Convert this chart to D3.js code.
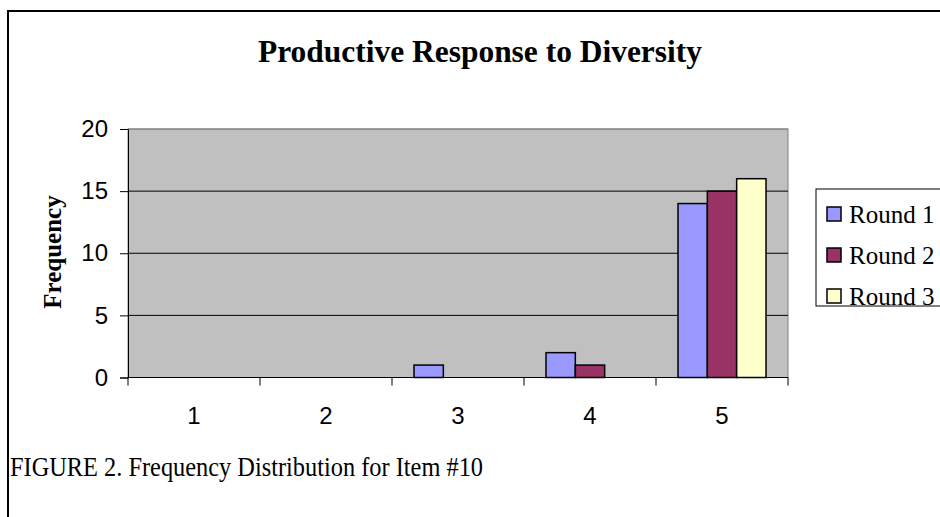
<!DOCTYPE html>
<html>
<head>
<meta charset="utf-8">
<script src="https://cdn.jsdelivr.net/npm/d3@7/dist/d3.min.js"></script>
<style>
  html, body { margin: 0; padding: 0; background: #fff; }
  svg { display: block; }
</style>
</head>
<body>
<script>
// Response categories (Likert scale 1–5) and frequency per round
const categories = ["1", "2", "3", "4", "5"];
const seriesNames = ["Round 1", "Round 2", "Round 3"];
const round1 = [0, 0, 1, 2, 14];
const round2 = [0, 0, 0, 1, 15];
const round3 = [0, 0, 0, 0, 16];
const yTicks = [0, 5, 10, 15, 20];
const seriesColors = ["#9999FF", "#993366", "#FFFFCC"];

const W = 940, H = 517;
const plot = { left: 128, right: 788, top: 129, bottom: 377.5 };

const svg = d3.select("body").append("svg")
  .attr("width", W).attr("height", H);

// Outer chart frame (runs past the right and bottom edges)
svg.append("rect")
  .attr("x", 8).attr("y", 11)
  .attr("width", 960).attr("height", 540)
  .attr("fill", "#fff").attr("stroke", "#000").attr("stroke-width", 2);

// Title
svg.append("text")
  .attr("x", 480).attr("y", 62)
  .attr("text-anchor", "middle")
  .attr("font-family", "'Liberation Serif', 'Times New Roman', serif")
  .attr("font-weight", "bold")
  .attr("font-size", 32)
  .attr("textLength", 444).attr("lengthAdjust", "spacingAndGlyphs")
  .text("Productive Response to Diversity");

const x0 = d3.scaleBand().domain(categories).range([plot.left, plot.right]).paddingInner(0).paddingOuter(0);
const x1 = d3.scaleBand().domain(seriesNames).range([0, x0.bandwidth()]).paddingInner(0).paddingOuter(0.75);
const y = d3.scaleLinear().domain([0, 20]).range([plot.bottom, plot.top]);

// Plot area background
svg.append("rect")
  .attr("x", plot.left).attr("y", plot.top)
  .attr("width", plot.right - plot.left).attr("height", plot.bottom - plot.top)
  .attr("fill", "#C0C0C0").attr("stroke", "#808080").attr("stroke-width", 1);

// Horizontal gridlines
svg.append("g")
  .selectAll("line")
  .data(yTicks.filter(d => d > 0))
  .join("line")
  .attr("x1", plot.left).attr("x2", plot.right)
  .attr("y1", d => y(d)).attr("y2", d => y(d))
  .attr("stroke", d => d === 20 ? "#808080" : "#000").attr("stroke-width", 1);

// Bars
const series = [round1, round2, round3];
const barData = [];
categories.forEach((c, i) => {
  seriesNames.forEach((s, j) => {
    barData.push({ cat: c, name: s, value: series[j][i], color: seriesColors[j] });
  });
});
svg.append("g")
  .selectAll("rect")
  .data(barData.filter(d => d.value > 0))
  .join("rect")
  .attr("x", d => x0(d.cat) + x1(d.name))
  .attr("y", d => y(d.value))
  .attr("width", x1.bandwidth())
  .attr("height", d => y(0) - y(d.value))
  .attr("fill", d => d.color)
  .attr("stroke", "#000").attr("stroke-width", 1.5);

// Y axis
const yAxis = svg.append("g")
  .attr("transform", `translate(${plot.left},0)`)
  .call(d3.axisLeft(y).tickValues(yTicks).tickSize(8).tickPadding(12));
yAxis.select(".domain").attr("stroke", "#000");
yAxis.selectAll(".tick line").attr("stroke", "#000");
yAxis.selectAll("text")
  .attr("font-family", "'Liberation Sans', Arial, sans-serif")
  .attr("font-size", 24).attr("fill", "#000");

// X axis: ticks sit on category boundaries, labels centered in each category
const xAxisG = svg.append("g").attr("transform", `translate(0,${plot.bottom})`);
xAxisG.append("line")
  .attr("x1", plot.left).attr("x2", plot.right)
  .attr("stroke", "#000").attr("stroke-width", 1);
const boundaries = categories.map(c => x0(c)).concat([plot.right]);
xAxisG.selectAll("line.tk")
  .data(boundaries)
  .join("line").attr("class", "tk")
  .attr("x1", d => d).attr("x2", d => d)
  .attr("y1", 0).attr("y2", 8)
  .attr("stroke", "#000");
xAxisG.selectAll("text")
  .data(categories)
  .join("text")
  .attr("x", d => x0(d) + x0.bandwidth() / 2)
  .attr("y", 46)
  .attr("text-anchor", "middle")
  .attr("font-family", "'Liberation Sans', Arial, sans-serif")
  .attr("font-size", 24)
  .text(d => d);

// Y axis title
svg.append("text")
  .attr("transform", "translate(52,252) rotate(-90)")
  .attr("text-anchor", "middle")
  .attr("dy", "0.35em")
  .attr("font-family", "'Liberation Serif', 'Times New Roman', serif")
  .attr("font-weight", "bold")
  .attr("font-size", 25)
  .text("Frequency");

// Legend
const legend = svg.append("g");
legend.append("rect")
  .attr("x", 816).attr("y", 189)
  .attr("width", 140).attr("height", 117)
  .attr("fill", "#fff").attr("stroke", "#000").attr("stroke-width", 1);
const legendY = [214, 255, 296];
seriesNames.forEach((name, i) => {
  legend.append("rect")
    .attr("x", 827).attr("y", legendY[i] - 7)
    .attr("width", 14).attr("height", 14)
    .attr("fill", seriesColors[i]).attr("stroke", "#000").attr("stroke-width", 1.5);
  legend.append("text")
    .attr("x", 849).attr("y", legendY[i])
    .attr("dy", "0.35em")
    .attr("font-family", "'Liberation Serif', 'Times New Roman', serif")
    .attr("font-size", 25)
    .text(name);
});

// Figure caption
svg.append("text")
  .attr("x", 10).attr("y", 476)
  .attr("font-family", "'Liberation Serif', 'Times New Roman', serif")
  .attr("font-size", 27)
  .attr("textLength", 473).attr("lengthAdjust", "spacingAndGlyphs")
  .text("FIGURE 2. Frequency Distribution for Item #10");
</script>
</body>
</html>
